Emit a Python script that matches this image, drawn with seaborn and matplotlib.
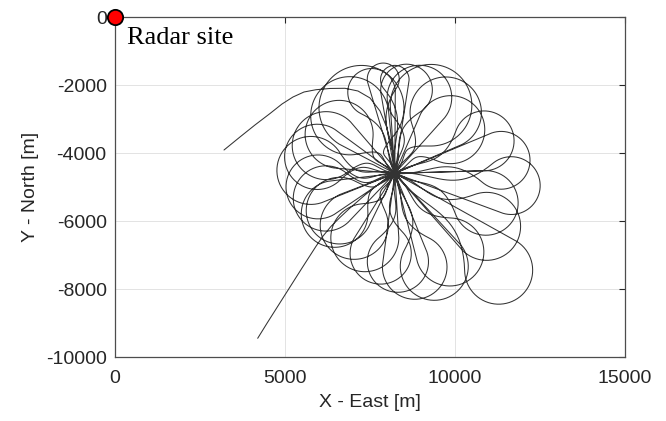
import numpy as np
import pandas as pd
import matplotlib
matplotlib.use("Agg")
import matplotlib.pyplot as plt
import seaborn as sns

# ---- data (metres) ----
# inbound tail (upper-left) and outbound tail (lower-left)
tail_in_x = [3206, 3676, 4117, 4559, 4912, 5235, 5559, 5912, 6323, 6765, 7147, 7500, 7794,
             8000, 8147, 8230]
tail_in_y = [-3903, -3520, -3167, -2830, -2550, -2344, -2197, -2130, -2093, -2088, -2168,
             -2373, -2756, -3256, -3844, -4590]
tail_out_x = [8230, 7794, 7353, 6912, 6618, 6353, 6118, 5912, 5706, 5500, 5294, 5088, 4882,
              4676, 4470, 4197]
tail_out_y = [-4590, -4873, -5226, -5609, -5885, -6150, -6435, -6735, -7053, -7375, -7700,
              -8030, -8350, -8680, -9000, -9441]

# loop hub (point all loops pass through)
hub_x, hub_y = 8230, -4590

# each loop: direction from hub (deg, counter-clockwise from East), reach of the tip (m),
# turn radius (m), turn sense (+1 clockwise, -1 counter-clockwise)
loop_dir = [178, 168, 190, 158, 200, 214, 145, 128, 117, 106, 97, 90, 82, 72, 62, 50, 38,
            20, 7, -6, -18, -30, -43, -55, -67, -78, -88, -100, -115, -128, -146]
loop_reach = [3470, 3294, 3235, 3176, 3117, 3117, 3000, 3300, 3410, 3180, 3265, 3176, 3235,
              3294, 3470, 3380, 3088, 3676, 4000, 4294, 3765, 4117, 5176, 3823, 3970, 3765,
              3500, 3294, 3088, 2940, 2941]
loop_radius = [1000, 960, 940, 1000, 960, 980, 1000, 1150, 1250, 700, 470, 420, 760, 950, 1200,
               1050, 1000, 880, 850, 850, 950, 1000, 1000, 1000, 1000, 950, 900, 900, 1000,
               1000, 980]
loop_turn = [1, -1, 1, -1, 1, -1, 1, -1, 1, -1, 1, -1, 1, -1, 1, -1, 1,
             -1, 1, -1, 1, -1, 1, -1, 1, -1, 1, -1, 1, -1, 1]

radar_x, radar_y = [0], [0]

x_ticks = [0, 5000, 10000, 15000]
y_ticks = [-10000, -8000, -6000, -4000, -2000, 0]


def loop_path(direction, reach, radius, turn, n=140, m=50):
    th = np.radians(direction)
    d = reach - radius
    a = np.arcsin(min(radius / d, 0.95))
    extra = 0.55
    cx, cy = hub_x + d * np.cos(th), hub_y + d * np.sin(th)
    phi0 = th + turn * (np.pi / 2 + a)
    phi1 = th - turn * (np.pi / 2 + a + extra)
    phi = np.linspace(phi0, phi1, n)
    ax_ = cx + radius * np.cos(phi)
    ay_ = cy + radius * np.sin(phi)
    p2 = np.array([ax_[-1], ay_[-1]])
    tan = turn * np.array([np.sin(phi1), -np.cos(phi1)])
    b1 = p2 + 0.45 * d * tan
    back = th - turn * 0.22
    b2 = np.array([hub_x, hub_y]) + 0.32 * d * np.array([np.cos(back), np.sin(back)])
    p3 = np.array([hub_x, hub_y])
    t = np.linspace(0, 1, m)[1:, None]
    bez = ((1 - t) ** 3) * p2 + 3 * ((1 - t) ** 2) * t * b1 + 3 * (1 - t) * t ** 2 * b2 + t ** 3 * p3
    xs = np.concatenate([[hub_x], ax_, bez[:, 0]])
    ys = np.concatenate([[hub_y], ay_, bez[:, 1]])
    return xs, ys


xs, ys = [np.array(tail_in_x, float)], [np.array(tail_in_y, float)]
for dname, r, rad, tn in zip(loop_dir, loop_reach, loop_radius, loop_turn):
    lx, ly = loop_path(dname, r, rad, tn)
    xs.append(lx)
    ys.append(ly)
xs.append(np.array(tail_out_x, float))
ys.append(np.array(tail_out_y, float))
track = pd.DataFrame({"x": np.concatenate(xs), "y": np.concatenate(ys)})

sns.set_style("white")
plt.rcParams["font.family"] = ["Liberation Sans", "DejaVu Sans"]

fig = plt.figure(figsize=(6.66, 4.21), dpi=100)
ax = fig.add_axes([115 / 666, 1 - 357.3 / 421, 510 / 666, 340 / 421])

sns.lineplot(data=track, x="x", y="y", sort=False, estimator=None, color="#333333",
             lw=0.75, ax=ax, zorder=3)
ax.plot(radar_x, radar_y, "o", ms=11, mfc="red", mec="black", mew=1.3, clip_on=False, zorder=6)
ax.text(350, -790, "Radar site", family=["Liberation Serif", "DejaVu Serif"], fontsize=19,
        va="baseline", ha="left", color="black")

ax.set_xlim(0, 15000)
ax.set_ylim(-10000, 0)
ax.set_xticks(x_ticks)
ax.set_yticks(y_ticks)
ax.set_xticklabels([str(v) for v in x_ticks])
ax.set_yticklabels([str(v) for v in y_ticks])
ax.grid(True, color="#e3e3e3", lw=0.7)
ax.set_axisbelow(True)
for s in ax.spines.values():
    s.set_color("#4d4d4d")
    s.set_linewidth(0.9)
ax.tick_params(direction="in", length=4, width=0.8, top=True, right=True, labelsize=14,
               colors="#262626")
ax.tick_params(axis="x", pad=9)
ax.tick_params(axis="y", pad=6)
ax.set_xlabel("X - East [m]", fontsize=14, color="#262626", labelpad=5)
ax.set_ylabel("Y - North [m]", fontsize=14, color="#262626", labelpad=5)

fig.savefig("out.png", dpi=100)
